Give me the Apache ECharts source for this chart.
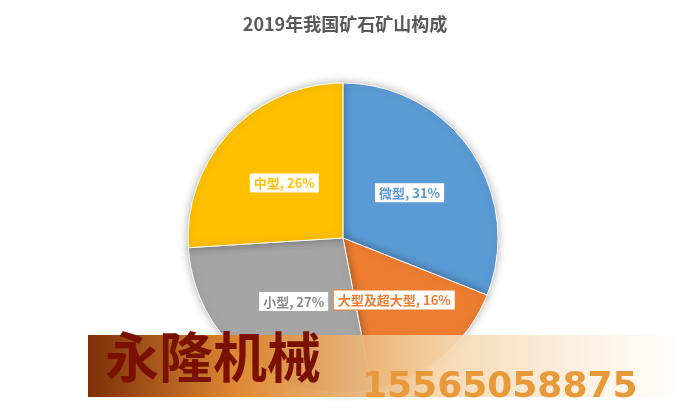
<!DOCTYPE html>
<html><head><meta charset="utf-8">
<script src="https://cdn.jsdelivr.net/npm/echarts@6/dist/echarts.min.js"></script>
<style>html,body{margin:0;padding:0;background:#fff}#c{width:690px;height:414px}</style>
</head><body><div id="c"></div>
<script>
const categories = ['微型','大型及超大型','小型','中型'];
const values = [31,16,27,26];
const colors = ['#5b9bd5','#ed7d31','#a5a5a5','#ffc000'];
const chart = echarts.init(document.getElementById('c'));
chart.setOption({
  backgroundColor:'#fff',
  title:{text:'2019年我国矿石矿山构成',left:'center',top:10,textStyle:{fontFamily:'Noto Sans CJK SC',fontSize:18,fontWeight:'bold',color:'#595959'}},
  series:[{
    type:'pie',center:[343,238],radius:[0,155],startAngle:90,clockwise:true,
    data:categories.map((c,i)=>({name:c,value:values[i],itemStyle:{color:colors[i]},
      label:{color:colors[i]==='#a5a5a5'?'#8a8a8a':colors[i],borderColor:colors[i]}})),
    itemStyle:{borderColor:'#fff',borderWidth:1,shadowBlur:8,shadowColor:'rgba(0,0,0,0.3)'},
    label:{position:'inner',formatter:'{b}, {d}%',fontSize:13,fontWeight:'bold',fontFamily:'Noto Sans CJK SC',
      backgroundColor:'#fff',borderWidth:1,padding:[3,4]},
    labelLine:{show:false}
  }],
  graphic:[
    {type:'rect',z:100,left:88,top:335,shape:{width:592,height:62},
      style:{fill:new echarts.graphic.LinearGradient(0,0,1,0,[{offset:0,color:'rgba(120,40,0,0.97)'},{offset:0.25,color:'rgba(220,130,40,0.95)'},{offset:0.6,color:'rgba(245,215,175,0.92)'},{offset:1,color:'rgba(255,255,255,0.85)'}])}},
    {type:'text',z:101,left:105,top:330,style:{text:'永隆机械',font:'bold 54px "Noto Sans CJK SC"',fill:'#7a1000'}},
    {type:'text',z:101,left:362,top:370,style:{text:'15565058875',font:'bold 36px "DejaVu Sans"',fill:'#e89a3a'}}
  ]
});
</script></body></html>
